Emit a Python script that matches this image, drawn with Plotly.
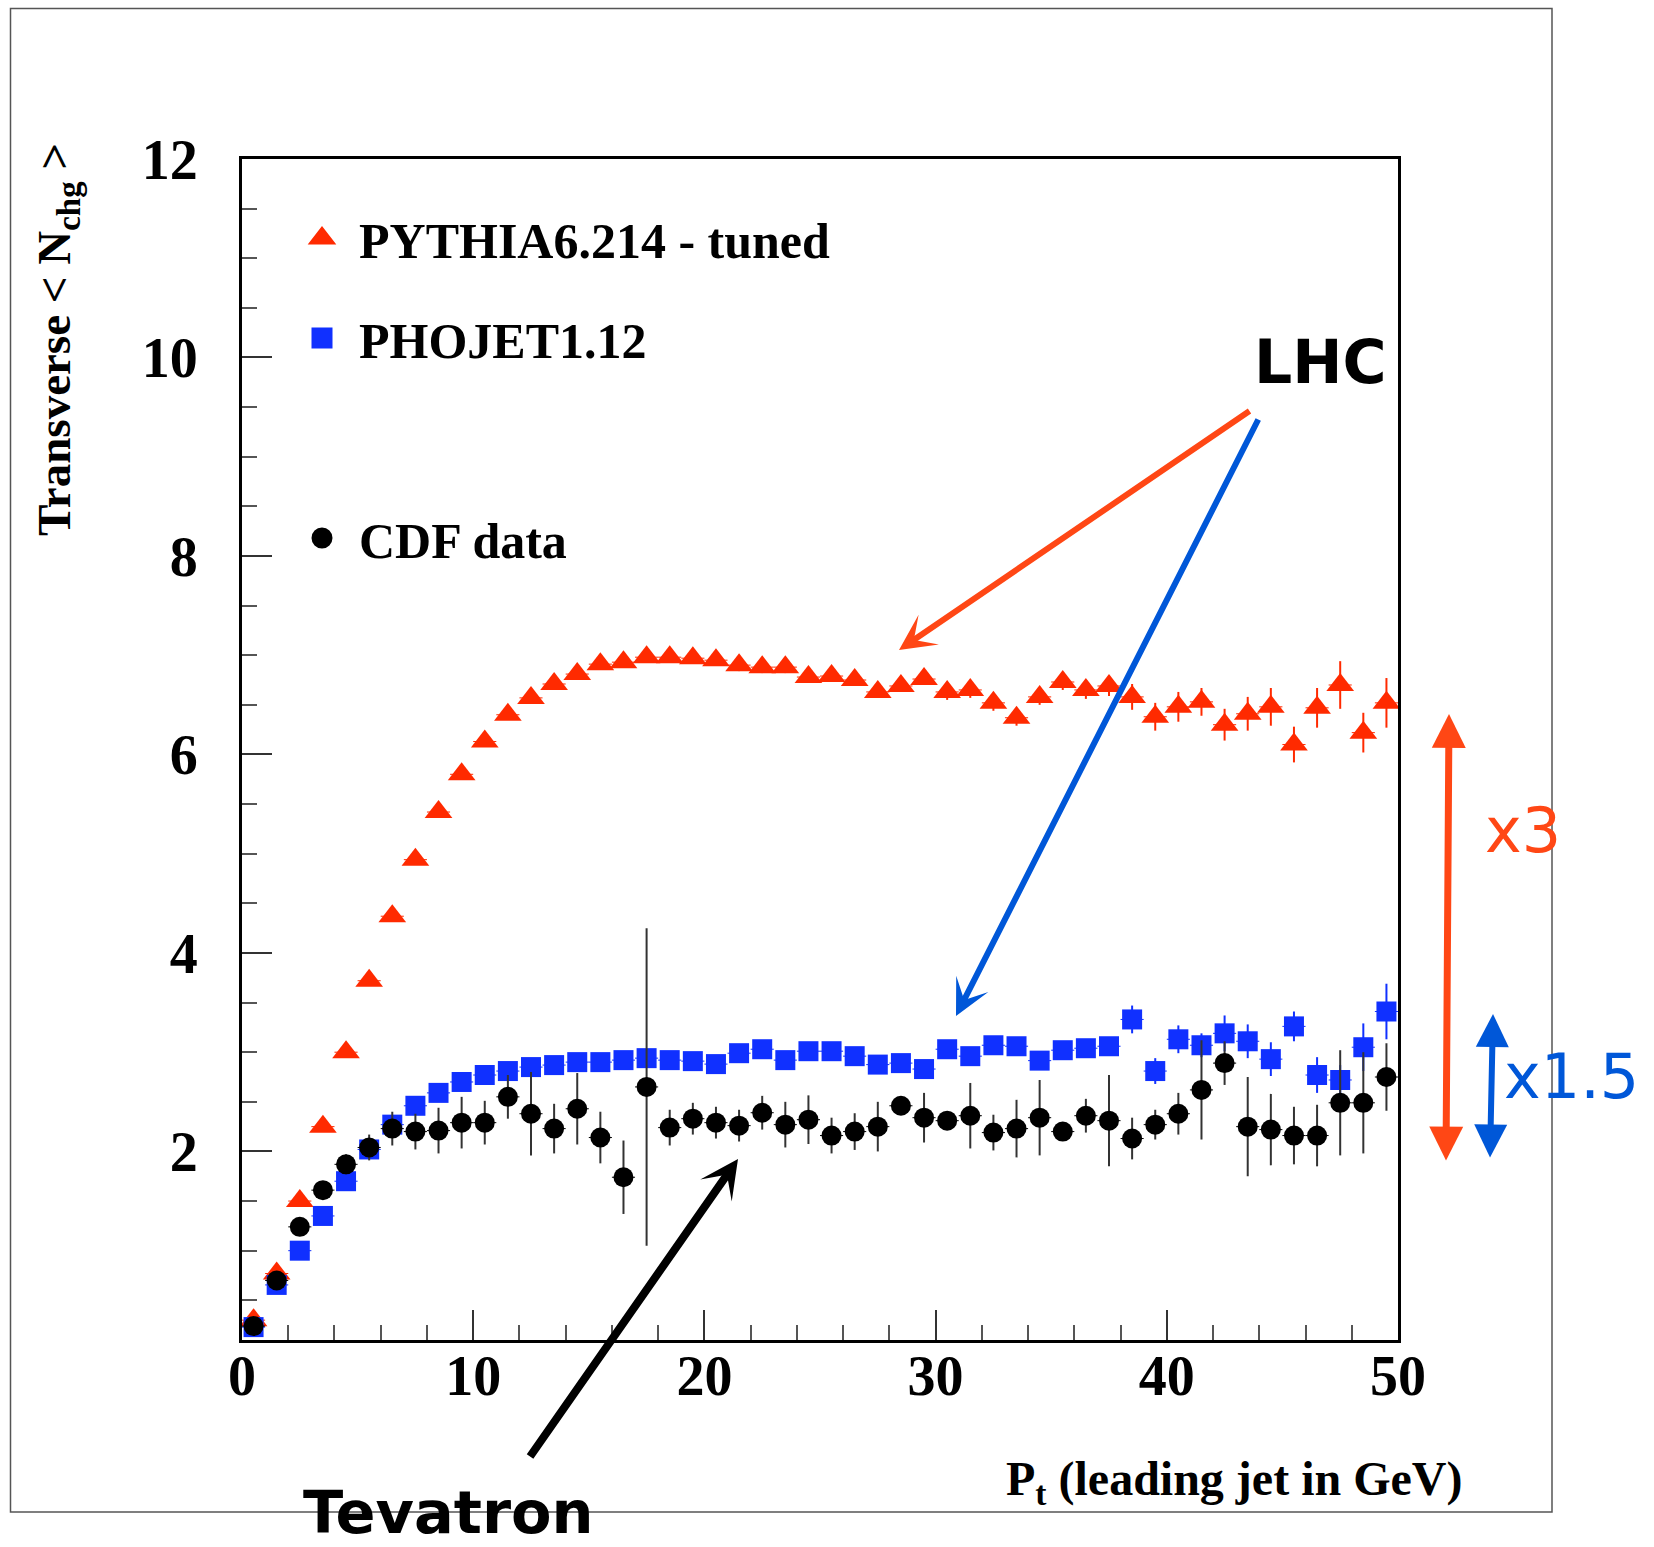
import plotly.graph_objects as go

# Leading-jet transverse momentum bins (bin centres, GeV)
pt = [0.5, 1.5, 2.5, 3.5, 4.5, 5.5, 6.5, 7.5, 8.5, 9.5,
      10.5, 11.5, 12.5, 13.5, 14.5, 15.5, 16.5, 17.5, 18.5, 19.5,
      20.5, 21.5, 22.5, 23.5, 24.5, 25.5, 26.5, 27.5, 28.5, 29.5,
      30.5, 31.5, 32.5, 33.5, 34.5, 35.5, 36.5, 37.5, 38.5, 39.5,
      40.5, 41.5, 42.5, 43.5, 44.5, 45.5, 46.5, 47.5, 48.5, 49.5]

# PYTHIA6.214 - tuned (LHC prediction)
pythia = [0.30, 0.77, 1.50, 2.25, 3.00, 3.72, 4.37, 4.94, 5.42, 5.80,
          6.13, 6.40, 6.57, 6.71, 6.81, 6.91, 6.93, 6.98, 6.98, 6.97,
          6.95, 6.90, 6.88, 6.88, 6.78, 6.79, 6.75, 6.63, 6.69, 6.76,
          6.63, 6.65, 6.52, 6.37, 6.58, 6.73, 6.65, 6.69, 6.58, 6.38,
          6.48, 6.53, 6.30, 6.41, 6.48, 6.10, 6.47, 6.70, 6.22, 6.52]
pythia_err = [0.03, 0.03, 0.03, 0.03, 0.03, 0.03, 0.03, 0.03, 0.03, 0.03,
              0.03, 0.04, 0.04, 0.04, 0.04, 0.04, 0.04, 0.04, 0.04, 0.04,
              0.04, 0.06, 0.06, 0.06, 0.06, 0.06, 0.06, 0.06, 0.06, 0.06,
              0.08, 0.08, 0.08, 0.08, 0.08, 0.08, 0.09, 0.10, 0.13, 0.14,
              0.15, 0.14, 0.16, 0.17, 0.19, 0.18, 0.20, 0.24, 0.20, 0.25]

# PHOJET1.12 (LHC prediction)
phojet = [0.23, 0.655, 1.00, 1.35, 1.70, 2.02, 2.27, 2.46, 2.59, 2.70,
          2.77, 2.81, 2.85, 2.87, 2.90, 2.90, 2.92, 2.94, 2.92, 2.91,
          2.88, 2.99, 3.03, 2.92, 3.01, 3.01, 2.96, 2.875, 2.89, 2.83,
          3.03, 2.96, 3.07, 3.06, 2.915, 3.02, 3.04, 3.06, 3.33, 2.81,
          3.13, 3.07, 3.19, 3.11, 2.93, 3.26, 2.77, 2.72, 3.05, 3.41]
phojet_err = [0.03, 0.03, 0.03, 0.03, 0.03, 0.03, 0.03, 0.03, 0.03, 0.03,
              0.03, 0.03, 0.03, 0.03, 0.03, 0.03, 0.03, 0.03, 0.03, 0.03,
              0.03, 0.05, 0.05, 0.05, 0.05, 0.05, 0.05, 0.05, 0.05, 0.05,
              0.05, 0.08, 0.08, 0.08, 0.08, 0.08, 0.08, 0.08, 0.14, 0.13,
              0.14, 0.12, 0.18, 0.17, 0.17, 0.15, 0.18, 0.15, 0.24, 0.28]

# CDF data (Tevatron)
cdf = [0.24, 0.70, 1.24, 1.61, 1.87, 2.04, 2.23, 2.20, 2.21, 2.29,
       2.29, 2.55, 2.38, 2.23, 2.43, 2.14, 1.74, 2.65, 2.24, 2.33,
       2.29, 2.26, 2.39, 2.27, 2.32, 2.16, 2.20, 2.25, 2.46, 2.34,
       2.31, 2.36, 2.19, 2.23, 2.34, 2.20, 2.36, 2.31, 2.13, 2.27,
       2.38, 2.62, 2.89, 2.25, 2.22, 2.16, 2.16, 2.49, 2.49, 2.75]
cdf_err = [0.02, 0.02, 0.03, 0.04, 0.10, 0.13, 0.17, 0.18, 0.23, 0.26,
           0.22, 0.22, 0.42, 0.25, 0.36, 0.26, 0.37, 1.60, 0.18, 0.16,
           0.16, 0.16, 0.17, 0.23, 0.245, 0.18, 0.185, 0.25, 0.09, 0.25,
           0.08, 0.33, 0.18, 0.29, 0.38, 0.09, 0.17, 0.46, 0.21, 0.15,
           0.21, 0.50, 0.22, 0.50, 0.36, 0.29, 0.31, 0.53, 0.51, 0.34]

x_ticks = [0, 10, 20, 30, 40, 50]
x_tick_labels = ["0", "10", "20", "30", "40", "50"]
y_ticks = [2, 4, 6, 8, 10, 12]
y_tick_labels = ["2", "4", "6", "8", "10", "12"]

# ---- page geometry (pixels) ----
W, H = 1654, 1547
ML, MR, MT, MB = 242, 256, 159, 207
PW, PH = W - ML - MR, H - MT - MB


def fx(px):
    """page x pixel -> paper coordinate"""
    return (px - ML) / PW


def fy(py):
    """page y pixel (from top) -> paper coordinate"""
    return (H - MB - py) / PH


SERIF = "Liberation Serif"
SANS = "DejaVu Sans"
RED = "#ff2a00"
BLUE = "#1030ff"
ARROW_RED = "#ff4715"
ARROW_BLUE = "#0057d8"

fig = go.Figure()

# ---- data series (legend entries are drawn by the proxies below) ----
fig.add_trace(go.Scatter(
    x=pt, y=pythia, mode="markers", name="PYTHIA6.214 - tuned", showlegend=False,
    marker=dict(symbol="triangle-up", size=24, color=RED),
    error_y=dict(type="data", array=pythia_err, color=RED, thickness=2, width=0),
    error_x=dict(type="constant", value=0.5, color=RED, thickness=1, width=0),
))
fig.add_trace(go.Scatter(
    x=pt, y=phojet, mode="markers", name="PHOJET1.12", showlegend=False,
    marker=dict(symbol="square", size=20, color=BLUE),
    error_y=dict(type="data", array=phojet_err, color=BLUE, thickness=2, width=0),
    error_x=dict(type="constant", value=0.5, color=BLUE, thickness=1, width=0),
))
fig.add_trace(go.Scatter(
    x=pt, y=cdf, mode="markers", name="CDF data", showlegend=False,
    marker=dict(symbol="circle", size=20, color="black"),
    error_y=dict(type="data", array=cdf_err, color="#333333", thickness=2, width=0),
    error_x=dict(type="constant", value=0.5, color="black", thickness=1, width=0),
))

# ---- legend proxies (larger symbols than the data markers) ----
legend_entries = [
    ("PYTHIA6.214 - tuned", "triangle-up", RED),
    ("PHOJET1.12", "square", BLUE),
    (" ", "circle", "rgba(0,0,0,0)"),   # empty row before the data entry
    ("CDF data", "circle", "black"),
]
for i, (label, symbol, color) in enumerate(legend_entries):
    fig.add_trace(go.Scatter(
        x=[None], y=[None], mode="markers", name=label,
        legendgroup=f"g{i}", hoverinfo="skip",
        marker=dict(symbol=symbol, size=16, color=color,
                    line=dict(color=color, width=5)),
    ))

axis_common = dict(
    showline=True, linecolor="black", linewidth=3, mirror=True,
    showgrid=False, zeroline=False,
    ticks="inside", ticklen=30, tickwidth=2, tickcolor="#333333",
    tickfont=dict(family=SERIF, size=56, color="black", weight="bold"),
)

fig.update_xaxes(
    range=[0, 50], tickmode="array", tickvals=x_ticks, ticktext=x_tick_labels,
    minor=dict(ticks="inside", ticklen=15, tickwidth=1.5, tickcolor="#555555",
               tickmode="linear", tick0=0, dtick=2),
    ticklabelstandoff=-15,
    **axis_common,
)
fig.update_yaxes(
    range=[0.1, 12], tickmode="array", tickvals=y_ticks, ticktext=y_tick_labels,
    minor=dict(ticks="inside", ticklen=15, tickwidth=1.5, tickcolor="#555555",
               tickmode="linear", tick0=0, dtick=0.5),
    ticklabelstandoff=30,
    **axis_common,
)

annotations = [
    # axis titles
    dict(text="Transverse &lt; N<sub>chg</sub> &gt;", textangle=-90,
         x=fx(57), y=fy(340), xanchor="center", yanchor="middle",
         font=dict(family=SERIF, size=47, color="black", weight="bold")),
    dict(text="P<sub>t</sub> (leading jet in GeV)",
         x=fx(1464), y=fy(1482), xanchor="right", yanchor="middle",
         font=dict(family=SERIF, size=48, color="black", weight="bold")),
    # labels
    dict(text="LHC", x=fx(1320), y=fy(362), xanchor="center", yanchor="middle",
         font=dict(family=SANS, size=60, color="black", weight="bold")),
    dict(text="Tevatron", x=fx(448), y=fy(1512), xanchor="center", yanchor="middle",
         font=dict(family=SANS, size=59, color="black", weight="bold")),
    dict(text="x3", x=fx(1523), y=fy(830), xanchor="center", yanchor="middle",
         font=dict(family=SANS, size=62, color=ARROW_RED)),
    dict(text="x1.5", x=fx(1571), y=fy(1076), xanchor="center", yanchor="middle",
         font=dict(family=SANS, size=62, color=ARROW_BLUE)),
]


def arrow(head, tail, color, width, style=3, size=1.0, both=False):
    a = dict(
        x=fx(head[0]), y=fy(head[1]), xref="paper", yref="paper",
        ax=tail[0] - head[0], ay=tail[1] - head[1], axref="pixel", ayref="pixel",
        text="", showarrow=True, arrowhead=style, arrowsize=size,
        arrowwidth=width, arrowcolor=color,
    )
    if both:
        a.update(arrowside="end+start", startarrowhead=style, startarrowsize=size)
    return a


annotations += [
    arrow((899, 650), (1251, 410), ARROW_RED, 6, 3, 1.0),
    arrow((956, 1016), (1259, 418), ARROW_BLUE, 6, 3, 1.0),
    arrow((738, 1159), (529, 1458), "black", 8, 3, 0.8),
    arrow((1449, 714), (1446, 1162), ARROW_RED, 7, 2, 0.97, both=True),
    arrow((1493, 1014), (1490, 1159), ARROW_BLUE, 6, 2, 1.1, both=True),
]

for a in annotations:
    a.setdefault("xref", "paper")
    a.setdefault("yref", "paper")
    a.setdefault("showarrow", False)

fig.update_layout(
    width=W, height=H,
    margin=dict(l=ML, r=MR, t=MT, b=MB, pad=0),
    paper_bgcolor="white", plot_bgcolor="white",
    showlegend=True,
    legend=dict(
        x=fx(285), y=fy(199), xanchor="left", yanchor="top",
        font=dict(family=SERIF, size=50, color="black", weight="bold"),
        bgcolor="rgba(0,0,0,0)", borderwidth=0,
        itemwidth=64, tracegroupgap=32, traceorder="grouped",
    ),
    annotations=annotations,
    shapes=[
        dict(type="rect", xref="paper", yref="paper",
             x0=fx(10.5), x1=fx(1552), y0=fy(1512), y1=fy(8.5),
             line=dict(color="#555555", width=1.5), layer="below"),
    ],
)

fig.write_html("out.html")
